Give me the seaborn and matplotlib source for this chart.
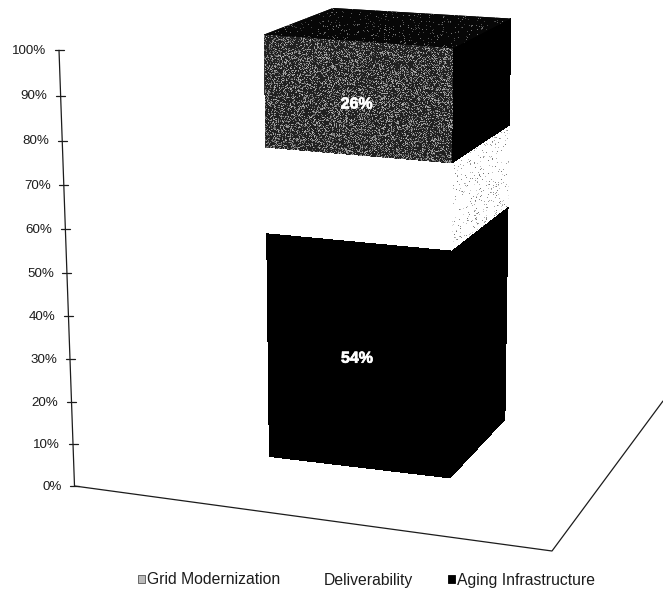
import numpy as np
import matplotlib
matplotlib.use("Agg")
import matplotlib.pyplot as plt
import matplotlib.patheffects as pe
from matplotlib.patches import Patch
from matplotlib.path import Path
from matplotlib.transforms import Transform
import seaborn as sns

# Stacked shares, listed from the top of the column down
series = ["Grid Modernization", "Deliverability", "Aging Infrastructure"]
shares = [26, 20, 54]
tick_values = [0, 10, 20, 30, 40, 50, 60, 70, 80, 90, 100]
tick_labels = [f"{t}%" for t in tick_values]
legend_order = ["Grid Modernization", "Deliverability", "Aging Infrastructure"]

W, H = 663, 589
sns.set_theme(style="white")
plt.rcParams["font.family"] = ["Liberation Sans", "DejaVu Sans"]
INK = "#1c1c1c"


class Projection(Transform):
    """Planar perspective map fitted from (u, value) to canvas anchor points."""
    input_dims = 2
    output_dims = 2
    is_separable = False
    has_inverse = False

    def __init__(self, src, dst):
        super().__init__()
        rows, rhs = [], []
        for (u, v), (x, y) in zip(src, dst):
            rows.append([u, v, 1, 0, 0, 0, -u * x, -v * x])
            rows.append([0, 0, 0, u, v, 1, -u * y, -v * y])
            rhs += [x, y]
        m = np.linalg.lstsq(np.array(rows, float), np.array(rhs, float), rcond=None)[0]
        self.m = np.append(m, 1.0).reshape(3, 3)

    def transform_non_affine(self, values):
        pts = np.asarray(values, float)
        hom = np.c_[pts, np.ones(len(pts))] @ self.m.T
        return hom[:, :2] / hom[:, 2:3]


# Perspective of the column's front and right-hand faces
front = Projection(
    [(0, 0), (1, 0), (0, 54), (1, 54), (0, 74), (1, 74), (0, 100), (1, 100)],
    [(269.5, 456), (450, 478), (266, 235), (452, 252),
     (265.5, 148), (453, 162), (265, 34), (453.5, 49)],
)
side = Projection(
    [(0, 0), (1, 0), (0, 54), (1, 54), (0, 74), (1, 74), (0, 100), (1, 100)],
    [(450, 478), (505, 419), (452, 252), (508, 208),
     (453, 162), (509, 127), (453.5, 49), (511, 18)],
)

fig = plt.figure(figsize=(W / 100, H / 100), dpi=100)
ax = fig.add_axes([0, 0, 1, 1])

rng = np.random.default_rng(7)


def grain(base, speck_lo, speck_hi, density):
    """Canvas-sized stipple: base tone with scattered specks of varying tone."""
    tex = np.full((H, W), base, float)
    hit = rng.random((H, W)) < density
    tex[hit] = rng.uniform(speck_lo, speck_hi, hit.sum())
    return tex


def stipple(tex, clip_path, clip_transform, z):
    im = ax.imshow(tex, extent=(0, W, H, 0), cmap="gray", vmin=0, vmax=1,
                   interpolation="nearest", aspect="auto", zorder=z)
    im.set_clip_path(clip_path, clip_transform)


def stacked_face(proj, colors, textures, base_z):
    """Draw cumulative bars, tallest first, so each segment shows its own band."""
    cum = np.cumsum(shares[::-1])[::-1]
    lows = np.append(cum[1:], 0)
    for i, (top, low, color, tex) in enumerate(zip(cum, lows, colors, textures)):
        sns.barplot(x=[0.5], y=[top], color=color, saturation=1, width=1,
                    native_scale=True, orient="x", linewidth=0, ax=ax)
        bar = ax.patches[-1]
        bar.set_transform(proj + ax.transData)
        bar.set_clip_on(False)
        bar.set_antialiased(False)
        bar.set_zorder(base_z + i)
        if tex is not None:
            band = Path([(0, low), (1, low), (1, top), (0, top), (0, low)], closed=True)
            stipple(tex, band, proj + ax.transData, base_z + i + 0.5)


stacked_face(front, ["#333333", "white", "black"],
             [grain(0.13, 0.3, 0.72, 0.36), None, None], 2)
stacked_face(side, ["black", "white", "black"],
             [None, grain(1.0, 0.45, 0.85, 0.07), None], 6)

# Roof of the column
roof_pts = np.array([front.transform([(0, 100)])[0], front.transform([(1, 100)])[0],
                     side.transform([(1, 100)])[0], (333, 8)])
roof = ax.fill(roof_pts[:, 0], roof_pts[:, 1], color="black", lw=0, zorder=10)[0]
stipple(grain(0.03, 0.2, 0.5, 0.06), Path(np.vstack([roof_pts, roof_pts[0]]), closed=True),
        ax.transData, 10.5)

# Value labels; the white middle band carries none that can be seen
for share, base, nudge in [(26, 74, 5), (54, 0, 2)]:
    px, py = front.transform([(0.5, base + share / 2)])[0]
    ax.text(px - 1.5, py + nudge, f"{share}%", color="white", fontsize=11.5, fontweight="bold",
            ha="center", va="center", zorder=12,
            path_effects=[pe.withStroke(linewidth=0.5, foreground="white")])


# Value axis leaning on the back wall
def axis_y(v):
    f = v / 100
    return (486 - 438 * f) / (1 - 0.045 * f)


def axis_x(v):
    return 74.5 - 15.5 * (486 - axis_y(v)) / 436


vs = np.array(tick_values, float)
ax.plot(axis_x(vs), axis_y(vs), color=INK, lw=0.9, zorder=1)
for v, lab in zip(vs, tick_labels):
    x, y = axis_x(v), axis_y(v)
    ax.plot([x - 4.5, x + 4.5], [y, y], color=INK, lw=0.9, zorder=1)
    ax.text(x - 13, y + 0.5, lab, ha="right", va="center", fontsize=9.6, color=INK)

# Outline of the floor
ax.plot([74.5, 552, 663], [486, 551, 401], color=INK, lw=0.9, zorder=1)

# Legend along the bottom
swatches = {"Grid Modernization": "#bbbbbb", "Deliverability": "white",
            "Aging Infrastructure": "black"}
edges = {"Grid Modernization": "#555555", "Deliverability": "white",
         "Aging Infrastructure": "black"}
handles = [Patch(facecolor=swatches[s], edgecolor=edges[s], linewidth=0.6, label=s)
           for s in legend_order]
fig.legend(handles=handles, loc="center", bbox_to_anchor=(366.5 / W, 1 - 580 / H), ncol=3,
           frameon=False, fontsize=11.3, labelcolor=INK, handlelength=0.45,
           handleheight=0.45, handletextpad=0.15, columnspacing=2.2, borderpad=0)

ax.set_xlim(0, W)
ax.set_ylim(H, 0)
ax.set_axis_off()
fig.savefig("out.png", dpi=100)
